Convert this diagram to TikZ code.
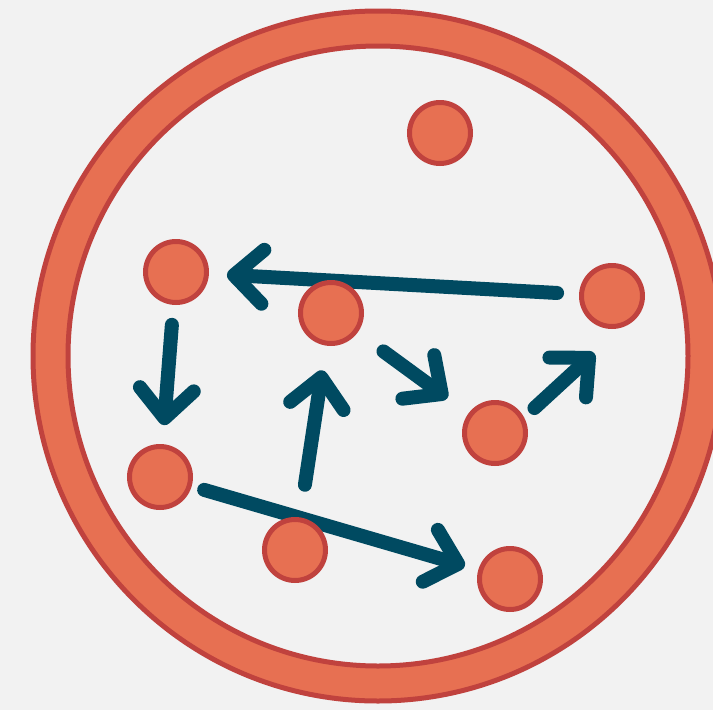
\documentclass[tikz,border=0pt]{standalone}
\usetikzlibrary{arrows.meta}
\definecolor{paper}{RGB}{242,242,242}
\definecolor{ringfill}{RGB}{231,112,82}
\definecolor{ringedge}{RGB}{192,66,62}
\definecolor{flowteal}{RGB}{0,74,97}
\pgfdeclarelayer{back}
\pgfdeclarelayer{mid}
\pgfsetlayers{back,mid,main}
\begin{document}
\begin{tikzpicture}[x=1pt, y=-1pt,
  dot/.style={circle, draw=ringedge, fill=ringfill, line width=5pt,
    minimum size=61pt, inner sep=0pt},
  flow/.style={draw=flowteal, line width=14pt, line cap=round,
    -{Straight Barb[length=29pt, width=54pt, round]}}]

\useasboundingbox (0,0) rectangle (713,710);

\begin{pgfonlayer}{back}
\fill[paper] (0,0) rectangle (713,710);
\draw[ringedge, line width=5pt, fill=ringfill, even odd rule]
  (378,356) circle[radius=345] circle[radius=310];
\end{pgfonlayer}

\node[dot] (d1) at (440,133) {};
\node[dot] (d2) at (176,272) {};
\node[dot] (d3) at (331,313) {};
\node[dot] (d4) at (612,296) {};
\node[dot] (d5) at (495,433) {};
\node[dot] (d6) at (160,477) {};
\node[dot] (d7) at (295,550) {};
\node[dot] (d8) at (510,579) {};

% moves between the dots
\begin{pgfonlayer}{mid}
\draw[flow, shorten <=22pt, shorten >=18pt] (d4) -- (d2);
\draw[flow, shorten <=20pt, shorten >=19pt] (d2) -- (d6);
\draw[flow, shorten <=33pt, shorten >=25pt] (d7) -- (d3);
\draw[flow, shorten <=32pt, shorten >=26pt] (d3) -- (d5);
\draw[flow, shorten <=14pt, shorten >=38pt] (d5.28) -- (d4.-72);
\draw[flow, shorten <=13pt, shorten >=14pt] (d6) -- (d8);
\end{pgfonlayer}

\end{tikzpicture}
\end{document}
